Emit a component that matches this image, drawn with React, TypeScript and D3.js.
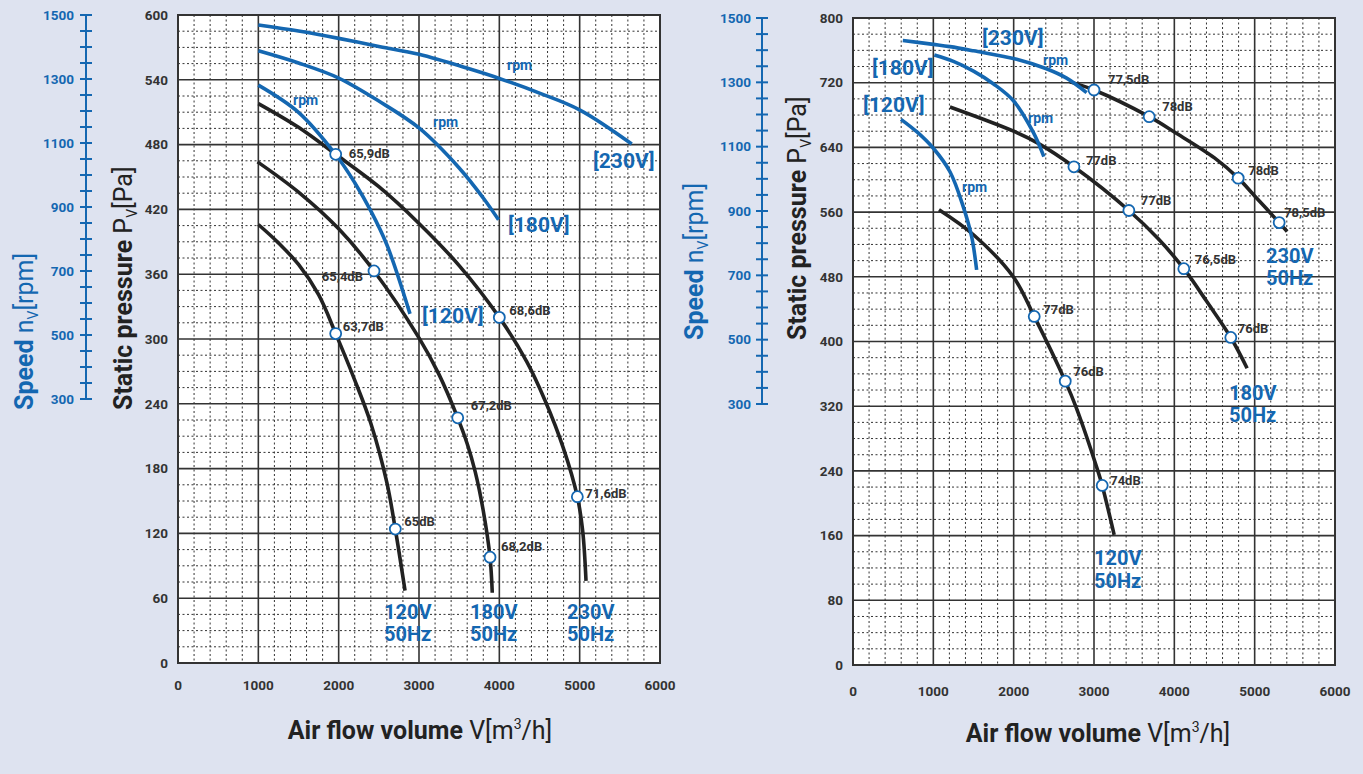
import React from "react";
import * as d3 from "d3";

const BLUE = "#1467b1";
const INK = "#222222";
const GRID = "#333333";
const BG = "#dee3f0";
const FONT = "Roboto, 'Noto Sans', sans-serif";

// ---------- shared ticks ----------
const airflowTicks = [0, 1000, 2000, 3000, 4000, 5000, 6000];
const speedTicks = [300, 500, 700, 900, 1100, 1300, 1500];
const leftPressureTicks = [0, 60, 120, 180, 240, 300, 360, 420, 480, 540, 600];
const rightPressureTicks = [0, 80, 160, 240, 320, 400, 480, 560, 640, 720, 800];

// ---------- left chart: pressure curves [V m3/h, Pa] ----------
const leftP120: [number, number][] = [[1000, 406], [1250, 389], [1500, 369], [1750, 341], [1963, 305], [2200, 262], [2400, 222], [2600, 167], [2705, 124], [2826, 67]];
const leftP180: [number, number][] = [[990, 464], [1500, 436], [2000, 402], [2440, 363], [3000, 301], [3250, 267], [3482, 227], [3600, 203], [3700, 177], [3800, 141], [3884, 98], [3912, 65]];
const leftP230: [number, number][] = [[1000, 518], [1500, 496], [1963, 471], [2500, 441], [3000, 407], [3500, 368], [4000, 320], [4341, 279], [4569, 243], [4797, 199], [4971, 154], [5038, 122], [5079, 76]];
// left chart: speed curves [V m3/h, rpm]
const leftN120: [number, number][] = [[1000, 1281], [1500, 1196], [1963, 1064], [2200, 976], [2400, 888], [2600, 782], [2888, 566]];
const leftN180: [number, number][] = [[1000, 1388], [1500, 1350], [2000, 1303], [2500, 1231], [3000, 1147], [3500, 1022], [3800, 928], [3990, 860]];
const leftN230: [number, number][] = [[1000, 1469], [1500, 1450], [2000, 1427], [2515, 1401], [3000, 1377], [3635, 1331], [4008, 1301], [4500, 1256], [5004, 1203], [5648, 1097]];
// left chart: noise points
const leftDbValues = [
  { v: 1963, p: 471, label: "65,9dB" },
  { v: 2440, p: 363, label: "65,4dB" },
  { v: 1963, p: 305, label: "63,7dB" },
  { v: 4000, p: 320, label: "68,6dB" },
  { v: 3482, p: 227, label: "67,2dB" },
  { v: 2705, p: 124, label: "65dB" },
  { v: 3884, p: 98, label: "68,2dB" },
  { v: 4971, p: 154, label: "71,6dB" },
];

// ---------- right chart ----------
const rightP120: [number, number][] = [[1070, 563], [1500, 532], [1995, 480], [2256, 431], [2642, 351], [2780, 318], [3048, 240], [3102, 222], [3251, 161]];
const rightP180: [number, number][] = [[1207, 690], [2000, 660], [2306, 645], [2750, 616], [3434, 562], [3800, 527], [4118, 490], [4400, 450], [4703, 405], [4906, 367]];
const rightP230: [number, number][] = [[2700, 721], [3000, 711], [3687, 678], [4000, 659], [4500, 627], [4795, 602], [5000, 580], [5305, 547], [5404, 536]];
const rightN120: [number, number][] = [[597, 1185], [800, 1145], [1000, 1095], [1207, 1022], [1373, 913], [1477, 820], [1539, 717]];
const rightN180: [number, number][] = [[1012, 1385], [1250, 1365], [1500, 1335], [1750, 1295], [2000, 1242], [2243, 1145], [2376, 1069]];
const rightN230: [number, number][] = [[620, 1430], [1000, 1418], [1207, 1411], [1500, 1398], [2037, 1372], [2400, 1343], [2659, 1313], [2908, 1268]];
const rightDbValues = [
  { v: 3000, p: 711, label: "77,5dB" },
  { v: 3687, p: 678, label: "78dB" },
  { v: 4795, p: 602, label: "78dB" },
  { v: 5305, p: 547, label: "78,5dB" },
  { v: 2750, p: 616, label: "77dB" },
  { v: 3434, p: 562, label: "77dB" },
  { v: 4118, p: 490, label: "76,5dB" },
  { v: 4703, p: 405, label: "76dB" },
  { v: 2256, p: 431, label: "77dB" },
  { v: 2642, p: 351, label: "76dB" },
  { v: 3102, p: 222, label: "74dB" },
];

// ---------- layout (pixels) ----------
const leftDbOffsets = [[13, -1, "start"], [-11, 5, "end"], [7, -7, "start"], [10, -7, "start"], [13, -12, "start"], [9, -8, "start"], [11, -11, "start"], [8, -3, "start"]];
const rightDbOffsets = [[14, -11, "start"], [13, -10, "start"], [10, -8, "start"], [5, -10, "start"], [12, -6, "start"], [12, -10, "start"], [11, -9, "start"], [7, -9, "start"], [9, -7, "start"], [8, -10, "start"], [8, -5, "start"]];

interface Cfg {
  x0: number; x1: number; yTop: number; yBot: number;
  pMax: number; pMinor: number; pTicks: number[];
  sTop: number; sBot: number; sAxisX: number; sLabelX: number;
  pLabelX: number; xLabelY: number; xTitleX: number; xTitleY: number;
  pTitleX: number; sTitleX: number; titleBottom: number;
  pCurves: [number, number][][]; nCurves: [number, number][][];
  db: { v: number; p: number; label: string }[]; dbOff: any[];
  blueTexts: { x: number; y: number; t: string; size: number }[];
}

const leftCfg: Cfg = {
  x0: 178, x1: 660, yTop: 15, yBot: 663, pMax: 600, pMinor: 15, pTicks: leftPressureTicks,
  sTop: 15, sBot: 399, sAxisX: 86, sLabelX: 74, pLabelX: 168, xLabelY: 690,
  xTitleX: 420, xTitleY: 739, pTitleX: 132, sTitleX: 33, titleBottom: 410,
  pCurves: [leftP120, leftP180, leftP230], nCurves: [leftN120, leftN180, leftN230],
  db: leftDbValues, dbOff: leftDbOffsets,
  blueTexts: [
    { x: 293, y: 100, t: "rpm", size: 14 },
    { x: 433, y: 122, t: "rpm", size: 14 },
    { x: 507, y: 65, t: "rpm", size: 14 },
    { x: 593, y: 161, t: "[230V]", size: 21 },
    { x: 508, y: 225, t: "[180V]", size: 21 },
    { x: 422, y: 316, t: "[120V]", size: 21 },
    { x: 384, y: 612, t: "120V", size: 20 },
    { x: 384, y: 634, t: "50Hz", size: 20 },
    { x: 470, y: 612, t: "180V", size: 20 },
    { x: 470, y: 634, t: "50Hz", size: 20 },
    { x: 567, y: 612, t: "230V", size: 20 },
    { x: 567, y: 634, t: "50Hz", size: 20 },
  ],
};

const rightCfg: Cfg = {
  x0: 853, x1: 1335, yTop: 18, yBot: 665, pMax: 800, pMinor: 20, pTicks: rightPressureTicks,
  sTop: 18, sBot: 404, sAxisX: 762, sLabelX: 751, pLabelX: 843, xLabelY: 696,
  xTitleX: 1098, xTitleY: 742, pTitleX: 806, sTitleX: 703, titleBottom: 340,
  pCurves: [rightP120, rightP180, rightP230], nCurves: [rightN120, rightN180, rightN230],
  db: rightDbValues, dbOff: rightDbOffsets,
  blueTexts: [
    { x: 1043, y: 60, t: "rpm", size: 14 },
    { x: 1028, y: 118, t: "rpm", size: 14 },
    { x: 962, y: 187, t: "rpm", size: 14 },
    { x: 982, y: 38, t: "[230V]", size: 21 },
    { x: 872, y: 68, t: "[180V]", size: 21 },
    { x: 863, y: 105, t: "[120V]", size: 21 },
    { x: 1266, y: 256, t: "230V", size: 20 },
    { x: 1266, y: 278, t: "50Hz", size: 20 },
    { x: 1229, y: 393, t: "180V", size: 20 },
    { x: 1229, y: 415, t: "50Hz", size: 20 },
    { x: 1094, y: 558, t: "120V", size: 20 },
    { x: 1094, y: 581, t: "50Hz", size: 20 },
  ],
};

function Chart({ c }: { c: Cfg }) {
  const xs = d3.scaleLinear().domain([0, 6000]).range([c.x0, c.x1]);
  const ys = d3.scaleLinear().domain([0, c.pMax]).range([c.yBot, c.yTop]);
  const ss = d3.scaleLinear().domain([300, 1500]).range([c.sBot, c.sTop]);
  const pLine = d3.line<[number, number]>().x(d => xs(d[0])).y(d => ys(d[1])).curve(d3.curveCatmullRom.alpha(0.5));
  const nLine = d3.line<[number, number]>().x(d => xs(d[0])).y(d => ss(d[1])).curve(d3.curveCatmullRom.alpha(0.5));

  const minorX = d3.range(0, 6001, 200).filter(v => v % 1000 !== 0);
  const minorY = d3.range(0, c.pMax + 1, c.pMinor).filter(v => !c.pTicks.includes(v));
  const speedMinor = d3.range(300, 1501, 50);

  return (
    <g fontFamily={FONT}>
      <rect x={c.x0} y={c.yTop} width={c.x1 - c.x0} height={c.yBot - c.yTop} fill="#fff" />
      {minorX.map(v => (
        <line key={"mx" + v} x1={xs(v)} x2={xs(v)} y1={c.yTop} y2={c.yBot} stroke={GRID} strokeWidth={1} strokeDasharray="2,2.5" />
      ))}
      {minorY.map(v => (
        <line key={"my" + v} x1={c.x0} x2={c.x1} y1={ys(v)} y2={ys(v)} stroke={GRID} strokeWidth={1} strokeDasharray="2,2.5" />
      ))}
      {airflowTicks.map(v => (
        <line key={"Mx" + v} x1={xs(v)} x2={xs(v)} y1={c.yTop} y2={c.yBot} stroke={GRID} strokeWidth={1.6} />
      ))}
      {c.pTicks.map(v => (
        <line key={"My" + v} x1={c.x0} x2={c.x1} y1={ys(v)} y2={ys(v)} stroke={GRID} strokeWidth={1.6} />
      ))}
      <rect x={c.x0} y={c.yTop} width={c.x1 - c.x0} height={c.yBot - c.yTop} fill="none" stroke={GRID} strokeWidth={2} />

      {/* pressure tick labels */}
      {c.pTicks.map(v => (
        <text key={"pl" + v} x={c.pLabelX} y={ys(v)} dy="0.35em" textAnchor="end" fontSize={13.5} fontWeight="bold" fill="#333">{v}</text>
      ))}
      {airflowTicks.map(v => (
        <text key={"xl" + v} x={xs(v)} y={c.xLabelY} textAnchor="middle" fontSize={13.5} fontWeight="bold" fill="#333">{v}</text>
      ))}

      {/* speed axis */}
      <line x1={c.sAxisX} x2={c.sAxisX} y1={ss(1500)} y2={ss(300)} stroke={BLUE} strokeWidth={2} />
      {speedMinor.map(v => (
        <line key={"st" + v} x1={c.sAxisX - 6} x2={c.sAxisX + 6} y1={ss(v)} y2={ss(v)} stroke={BLUE} strokeWidth={2} />
      ))}
      {speedTicks.map(v => (
        <text key={"sl" + v} x={c.sLabelX} y={ss(v)} dy="0.35em" textAnchor="end" fontSize={13.5} fontWeight="bold" fill={BLUE}>{v}</text>
      ))}

      {/* titles */}
      <text transform={`translate(${c.pTitleX},${c.titleBottom}) rotate(-90)`} fontSize={25} fill={INK}>
        <tspan fontWeight="bold">Static pressure </tspan>
        <tspan fontWeight={400}>P</tspan>
        <tspan fontWeight={400} fontSize={14} dy={5}>V</tspan>
        <tspan fontWeight={400} dy={-5}>[Pa]</tspan>
      </text>
      <text transform={`translate(${c.sTitleX},${c.titleBottom}) rotate(-90)`} fontSize={25} fill={BLUE}>
        <tspan fontWeight="bold">Speed </tspan>
        <tspan fontWeight={400}>n</tspan>
        <tspan fontWeight={400} fontSize={14} dy={5}>V</tspan>
        <tspan fontWeight={400} dy={-5}>[rpm]</tspan>
      </text>
      <text x={c.xTitleX} y={c.xTitleY} textAnchor="middle" fontSize={25} fill={INK}>
        <tspan fontWeight="bold">Air flow volume </tspan>
        <tspan fontWeight={400}>V[m</tspan>
        <tspan fontWeight={400} fontSize={14} dy={-10}>3</tspan>
        <tspan fontWeight={400} dy={10}>/h]</tspan>
      </text>

      {/* curves */}
      {c.pCurves.map((d, i) => (
        <path key={"pc" + i} d={pLine(d) || ""} fill="none" stroke={INK} strokeWidth={3.6} />
      ))}
      {c.nCurves.map((d, i) => (
        <path key={"nc" + i} d={nLine(d) || ""} fill="none" stroke={BLUE} strokeWidth={3.6} />
      ))}

      {/* noise points */}
      {c.db.map((d, i) => {
        const cx = xs(d.v), cy = ys(d.p);
        const o = c.dbOff[i];
        return (
          <g key={"db" + i}>
            <circle cx={cx} cy={cy} r={5.5} fill="#fff" stroke={BLUE} strokeWidth={1.8} />
            <text x={cx + o[0]} y={cy + o[1]} dy="0.35em" textAnchor={o[2]} fontSize={13} fontWeight="bold" fill="#333">{d.label}</text>
          </g>
        );
      })}

      {c.blueTexts.map((t, i) => (
        <text key={"bt" + i} x={t.x} y={t.y} dy="0.35em" fontSize={t.size} fontWeight="bold" fill={BLUE}>{t.t}</text>
      ))}
    </g>
  );
}

export default function App() {
  return (
    <svg width={1363} height={774} style={{ position: "absolute", left: 0, top: 0 }} xmlns="http://www.w3.org/2000/svg">
      <rect x={0} y={0} width={1363} height={774} fill={BG} />
      <Chart c={leftCfg} />
      <Chart c={rightCfg} />
    </svg>
  );
}
